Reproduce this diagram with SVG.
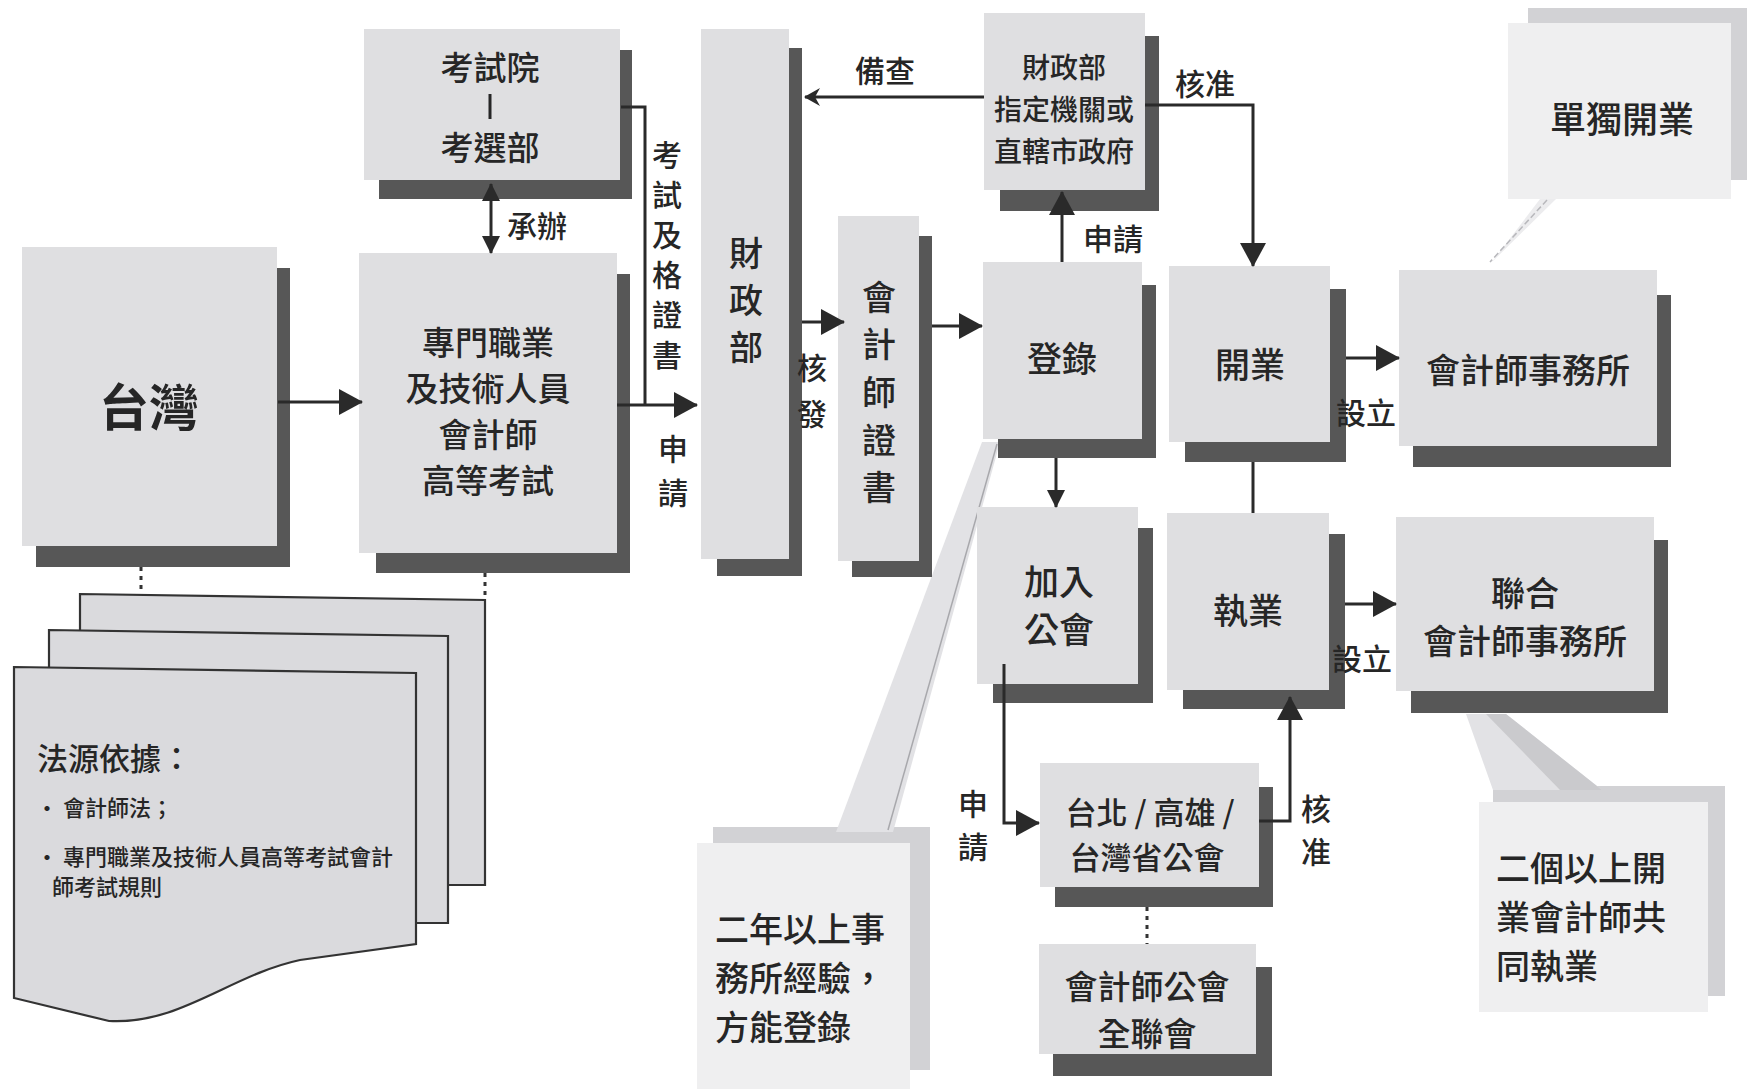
<svg xmlns="http://www.w3.org/2000/svg" width="1747" height="1089" viewBox="0 0 1747 1089">
<style>
text{font-family:"Noto Sans CJK TC","Noto Sans CJK SC",sans-serif;font-weight:500;fill:#262626;text-anchor:middle;dominant-baseline:central}
.fill{fill:#dfdfe1}
.shd{fill:#575757}
.cfill{fill:#efeff0}
.cshd{fill:#d2d2d5}
.tail{fill:#e2e2e5}
.tl{stroke:#a8a8ac;stroke-width:1.5;fill:none}
.c{stroke:#2a2a2a;stroke-width:3;fill:none}
.dot{stroke:#333;stroke-width:3;stroke-dasharray:4 5;fill:none}
.sheet{fill:#dadadd;stroke:#333;stroke-width:2.2}
.t30{font-size:30px}.t33{font-size:33px}.t34{font-size:34px}.t35{font-size:35px}
.big{font-size:34px;text-anchor:start}
.doc{text-anchor:start}
</style>
<defs>
<marker id="ah" markerUnits="userSpaceOnUse" markerWidth="24" markerHeight="26" refX="23" refY="13" orient="auto-start-reverse"><path d="M0,0 L24,13 L0,26 Z" fill="#2a2a2a"/></marker>
<marker id="as" markerUnits="userSpaceOnUse" markerWidth="18" markerHeight="18" refX="17" refY="9" orient="auto-start-reverse"><path d="M0,0 L18,9 L0,18 Z" fill="#2a2a2a"/></marker>
<marker id="an" markerUnits="userSpaceOnUse" markerWidth="16" markerHeight="18" refX="15" refY="9" orient="auto"><path d="M0,0 L16,9 L0,18 L5,9 Z" fill="#2a2a2a"/></marker>
</defs>
<rect width="1747" height="1089" fill="#ffffff"/>

<!-- callout bubbles -->
<g id="callout-solo">
<polygon points="1540,199 1556,199 1492,262" fill="#ececee"/>
<line x1="1547" y1="200" x2="1490" y2="262" stroke="#b8b8bc" stroke-width="1.5" stroke-dasharray="6 3"/>
<rect class="cshd" x="1528" y="8" width="219" height="172"/>
<rect class="cfill" x="1508" y="23" width="223" height="176"/>
<text x="1622" y="117" style="font-size:36px">單獨開業</text>
</g>
<g id="callout-joint">
<rect class="cshd" x="1493" y="786" width="232" height="210"/>
<polygon class="tail" points="1466,714 1506,714 1602,790 1493,790"/>
<polygon points="1486,714 1506,714 1602,790 1560,790" fill="#cacacd"/>
<rect class="cfill" x="1479" y="802" width="229" height="210"/>
<text class="big" x="1496" y="866">二個以上開</text>
<text class="big" x="1496" y="915">業會計師共</text>
<text class="big" x="1496" y="964">同執業</text>
</g>
<g id="callout-exp">
<rect class="cshd" x="713" y="827" width="217" height="243"/>
<polygon class="tail" points="982,442 1000,442 893,832 836,832"/>
<line class="tl" x1="997" y1="444" x2="888" y2="830"/>
<rect class="cfill" x="697" y="843" width="213" height="246"/>
<text class="big" x="715" y="927">二年以上事</text>
<text class="big" x="715" y="976">務所經驗，</text>
<text class="big" x="715" y="1025">方能登錄</text>
</g>

<!-- document stack -->
<g id="docs">
<polygon class="sheet" points="80,594 485,600 485,885 80,885"/>
<polygon class="sheet" points="49,630 448,636 448,923 49,923"/>
<path class="sheet" d="M14,667 L416,673 L416,944 L300,960 C230,975 180,1025 109,1021 L14,998 Z"/>
<text class="doc" x="37" y="756" style="font-size:31px">法源依據：</text>
<text class="doc" x="36" y="806" style="font-size:22px">• 會計師法；</text>
<text class="doc" x="36" y="855" style="font-size:22px">• 專門職業及技術人員高等考試會計</text>
<text class="doc" x="52" y="885" style="font-size:22px">師考試規則</text>
</g>

<!-- nodes -->
<g id="n-kaoshi">
<rect class="shd" x="379" y="50" width="253" height="149"/>
<rect class="fill" x="364" y="29" width="256" height="151"/>
<text class="t33" x="490" y="66">考試院</text>
<line x1="490" y1="94" x2="490" y2="119" stroke="#262626" stroke-width="3"/>
<text class="t33" x="490" y="146">考選部</text>
</g>
<g id="n-taiwan">
<rect class="shd" x="36" y="268" width="254" height="299"/>
<rect class="fill" x="22" y="247" width="255" height="299"/>
<text x="149" y="404" style="font-size:50px;font-weight:bold">台灣</text>
</g>
<g id="n-exam">
<rect class="shd" x="376" y="274" width="254" height="299"/>
<rect class="fill" x="359" y="253" width="258" height="300"/>
<text class="t33" x="488" y="341">專門職業</text>
<text class="t33" x="488" y="387">及技術人員</text>
<text class="t33" x="488" y="433">會計師</text>
<text class="t33" x="488" y="479">高等考試</text>
</g>
<g id="n-mof">
<rect class="shd" x="717" y="48" width="85" height="528"/>
<rect class="fill" x="701" y="29" width="88" height="530"/>
<text class="t34" x="746" y="251">財</text>
<text class="t34" x="746" y="298">政</text>
<text class="t34" x="746" y="345">部</text>
</g>
<g id="n-cert">
<rect class="shd" x="852" y="236" width="80" height="341"/>
<rect class="fill" x="838" y="216" width="81" height="345"/>
<text class="t34" x="879" y="295">會</text>
<text class="t34" x="879" y="342">計</text>
<text class="t34" x="879" y="390">師</text>
<text class="t34" x="879" y="438">證</text>
<text class="t34" x="879" y="485">書</text>
</g>
<g id="n-agency">
<rect class="shd" x="1000" y="36" width="159" height="175"/>
<rect class="fill" x="984" y="13" width="161" height="177"/>
<text x="1064" y="66" style="font-size:28px">財政部</text>
<text x="1064" y="108" style="font-size:28px">指定機關或</text>
<text x="1064" y="150" style="font-size:28px">直轄市政府</text>
</g>
<g id="n-register">
<rect class="shd" x="998" y="285" width="158" height="173"/>
<rect class="fill" x="983" y="262" width="159" height="177"/>
<text class="t35" x="1062" y="356">登錄</text>
</g>
<g id="n-open">
<rect class="shd" x="1185" y="289" width="161" height="173"/>
<rect class="fill" x="1169" y="266" width="161" height="176"/>
<text class="t35" x="1250" y="362">開業</text>
</g>
<g id="n-firm">
<rect class="shd" x="1413" y="295" width="258" height="172"/>
<rect class="fill" x="1399" y="270" width="258" height="176"/>
<text class="t34" x="1528" y="368">會計師事務所</text>
</g>
<g id="n-join">
<rect class="shd" x="993" y="528" width="160" height="175"/>
<rect class="fill" x="977" y="507" width="161" height="177"/>
<text class="t35" x="1059" y="579">加入</text>
<text class="t35" x="1059" y="627">公會</text>
</g>
<g id="n-practice">
<rect class="shd" x="1183" y="534" width="162" height="175"/>
<rect class="fill" x="1167" y="513" width="162" height="177"/>
<text class="t35" x="1248" y="608">執業</text>
</g>
<g id="n-jointfirm">
<rect class="shd" x="1411" y="540" width="257" height="173"/>
<rect class="fill" x="1396" y="517" width="258" height="174"/>
<text class="t34" x="1525" y="591">聯合</text>
<text class="t34" x="1525" y="639">會計師事務所</text>
</g>
<g id="n-local">
<rect class="shd" x="1055" y="787" width="218" height="120"/>
<rect class="fill" x="1040" y="763" width="219" height="124"/>
<text x="1150" y="810" style="font-size:31px">台北 / 高雄 /</text>
<text x="1147" y="855" style="font-size:31px">台灣省公會</text>
</g>
<g id="n-national">
<rect class="shd" x="1053" y="967" width="219" height="109"/>
<rect class="fill" x="1039" y="944" width="217" height="110"/>
<text class="t33" x="1147" y="985">會計師公會</text>
<text class="t33" x="1147" y="1032">全聯會</text>
</g>

<!-- connectors -->
<g id="connectors">
<path class="c" d="M278,402 H362" marker-end="url(#ah)"/>
<path class="c" d="M621,107 H645 V405"/>
<path class="c" d="M617,405 H697" marker-end="url(#ah)"/>
<path class="c" d="M491,184 V253" marker-start="url(#as)" marker-end="url(#as)"/>
<path class="c" d="M802,322 H844" marker-end="url(#ah)"/>
<path class="c" d="M984,97 H805" marker-end="url(#an)"/>
<path class="c" d="M932,326 H982" marker-end="url(#ah)"/>
<path class="c" d="M1062,262 V192" marker-end="url(#ah)"/>
<path class="c" d="M1145,105 H1253 V266" marker-end="url(#ah)"/>
<path class="c" d="M1346,358 H1399" marker-end="url(#ah)"/>
<path class="c" d="M1253,462 V513"/>
<path class="c" d="M1056,458 V507" marker-end="url(#as)"/>
<path class="c" d="M1345,604 H1396" marker-end="url(#ah)"/>
<path class="c" d="M1004,664 V823 H1039" marker-end="url(#ah)"/>
<path class="c" d="M1259,821 H1290 V697" marker-end="url(#ah)"/>
<path class="dot" d="M1147,907 V944"/>
<path class="dot" d="M141,567 V594"/>
<path class="dot" d="M485,573 V600"/>
</g>

<!-- connector labels -->
<g id="labels">
<text class="t30" x="667" y="153">考</text>
<text class="t30" x="667" y="193">試</text>
<text class="t30" x="667" y="233">及</text>
<text class="t30" x="667" y="273">格</text>
<text class="t30" x="667" y="313">證</text>
<text class="t30" x="667" y="353">書</text>
<text class="t30" x="673" y="447">申</text>
<text class="t30" x="673" y="491">請</text>
<text class="t30" x="537" y="224">承辦</text>
<text class="t30" x="812" y="366">核</text>
<text class="t30" x="812" y="412">發</text>
<text class="t30" x="885" y="69">備查</text>
<text class="t30" x="1205" y="82">核准</text>
<text class="t30" x="1113" y="237">申請</text>
<text class="t30" x="1366" y="411">設立</text>
<text class="t30" x="1362" y="657">設立</text>
<text class="t30" x="973" y="802">申</text>
<text class="t30" x="973" y="845">請</text>
<text class="t30" x="1316" y="807">核</text>
<text class="t30" x="1316" y="850">准</text>
</g>
</svg>
